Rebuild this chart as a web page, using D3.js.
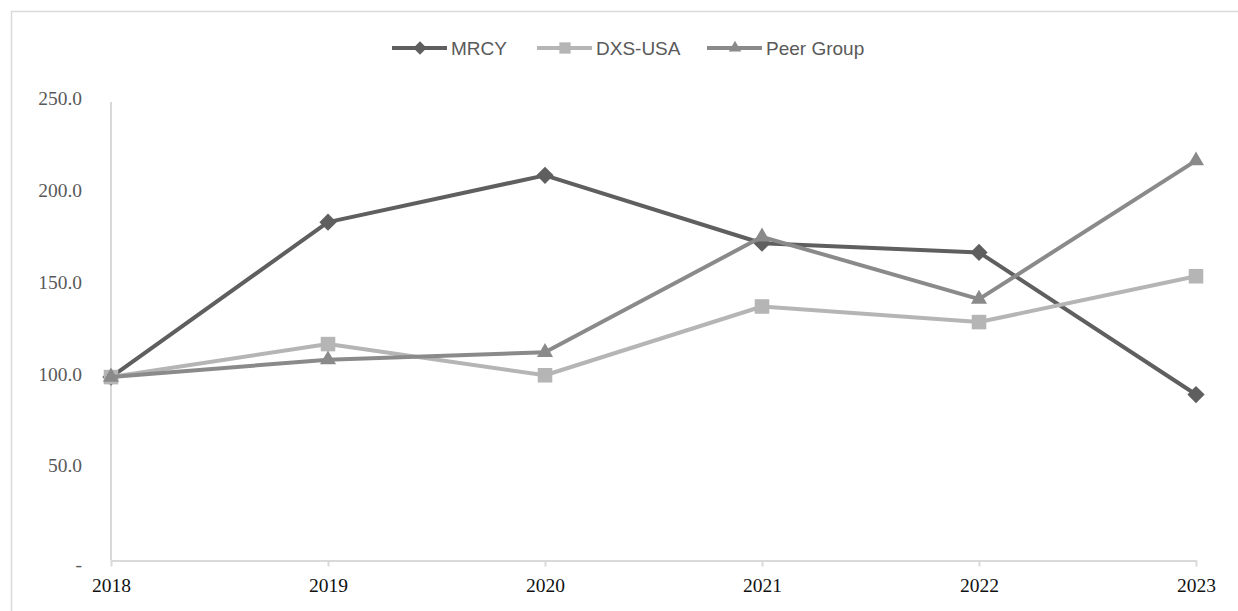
<!DOCTYPE html>
<html>
<head>
<meta charset="utf-8">
<script src="https://cdnjs.cloudflare.com/ajax/libs/d3/7.8.5/d3.min.js"></script>
<style>
  body { margin: 0; background: #fff; }
  svg { display: block; }
</style>
</head>
<body>
<svg id="chart" width="1238" height="611"></svg>
<script>
// data
var years = ['2018', '2019', '2020', '2021', '2022', '2023'];
var mrcy = [100, 184.5, 210, 173, 168, 90.5];
var dxsUsa = [100, 118, 101, 138.5, 130, 155];
var peerGroup = [100, 109.5, 113.5, 176.5, 142.5, 218];
var yTicks = [0, 50, 100, 150, 200, 250];

var series = [
  { name: 'MRCY', values: mrcy, color: '#5f5f5f', symbol: d3.symbolDiamond2, size: 190 },
  { name: 'DXS-USA', values: dxsUsa, color: '#b5b5b5', symbol: d3.symbolSquare2, size: 270 },
  { name: 'Peer Group', values: peerGroup, color: '#8a8a8a', symbol: d3.symbolTriangle2, size: 185 }
];

var svg = d3.select('#chart');

// outer frame
svg.append('rect')
  .attr('x', 11.5).attr('y', 11.5)
  .attr('width', 1250).attr('height', 640)
  .attr('fill', 'none')
  .attr('stroke', '#d9d9d9')
  .attr('stroke-width', 1.5);

var xScale = d3.scalePoint()
  .domain(years)
  .range([111, 1196]);

var yScale = d3.scaleLinear()
  .domain([0, 250])
  .range([560.5, 102]);

// y axis
var yAxis = svg.append('g')
  .attr('transform', 'translate(111,0)')
  .call(d3.axisLeft(yScale)
    .tickValues(yTicks)
    .tickSize(0)
    .tickPadding(29)
    .tickFormat(d => d === 0 ? '-' : d3.format('.1f')(d)));
yAxis.select('.domain')
  .attr('d', 'M0,' + yScale(250) + 'V' + yScale(0))
  .attr('stroke', '#d9d9d9')
  .attr('stroke-width', 2);
yAxis.selectAll('text')
  .attr('font-family', '"Liberation Serif", serif')
  .attr('font-size', 19.5)
  .attr('fill', '#595959')
  .attr('dy', '0.15em');
yAxis.selectAll('.tick')
  .filter(d => d === 0)
  .select('text')
  .attr('dy', '0.5em');

// x axis
var xAxis = svg.append('g')
  .attr('transform', 'translate(0,' + yScale(0) + ')')
  .call(d3.axisBottom(xScale)
    .tickSizeInner(6)
    .tickSizeOuter(0)
    .tickPadding(12));
xAxis.select('.domain')
  .attr('stroke', '#d9d9d9')
  .attr('stroke-width', 2);
xAxis.selectAll('.tick line')
  .attr('stroke', '#d9d9d9')
  .attr('stroke-width', 2);
xAxis.selectAll('text')
  .attr('font-family', '"Liberation Serif", serif')
  .attr('font-size', 19.5)
  .attr('fill', '#111');

var line = d3.line()
  .x((d, i) => xScale(years[i]))
  .y(d => yScale(d));

series.forEach(s => {
  svg.append('path')
    .datum(s.values)
    .attr('fill', 'none')
    .attr('stroke', s.color)
    .attr('stroke-width', 4)
    .attr('stroke-linejoin', 'round')
    .attr('d', line);

  svg.selectAll('.pt-' + s.name.replace(/\W/g, ''))
    .data(s.values)
    .join('path')
    .attr('transform', (d, i) => 'translate(' + xScale(years[i]) + ',' + yScale(d) + ')')
    .attr('d', d3.symbol().type(s.symbol).size(s.size))
    .attr('fill', s.color);
});

// legend
var legendX = [392, 537, 707];
var legend = svg.append('g').attr('transform', 'translate(0,48)');
series.forEach((s, i) => {
  var g = legend.append('g').attr('transform', 'translate(' + legendX[i] + ',0)');
  g.append('line')
    .attr('x1', 0).attr('x2', 55)
    .attr('stroke', s.color)
    .attr('stroke-width', 4);
  g.append('path')
    .attr('transform', 'translate(28,0)')
    .attr('d', d3.symbol().type(s.symbol).size(s.size * 0.6))
    .attr('fill', s.color);
  g.append('text')
    .attr('x', 59)
    .attr('dy', '0.36em')
    .attr('font-family', '"Liberation Sans", sans-serif')
    .attr('font-size', 19)
    .attr('fill', '#595959')
    .text(s.name);
});
</script>
</body>
</html>
